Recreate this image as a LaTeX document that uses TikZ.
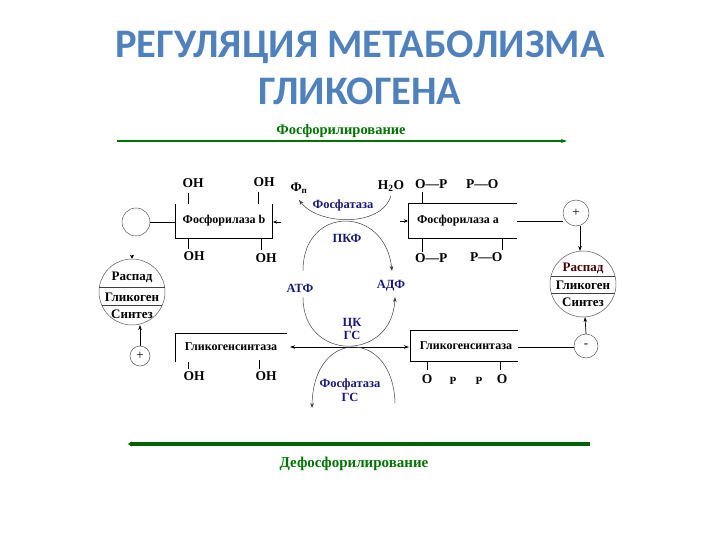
\documentclass[tikz,border=0pt]{standalone}
\usepackage{fontspec}
\setmainfont{Liberation Serif}
\newfontfamily\titlefont{Carlito}
\usetikzlibrary{arrows.meta}
\definecolor{titleblue}{RGB}{79,129,189}
\definecolor{dgreen}{RGB}{0,115,0}
\definecolor{navy}{RGB}{25,25,120}
\newcommand\fsz[1]{\fontsize{#1}{#1}\selectfont\bfseries}
\begin{document}
\begin{tikzpicture}[x=1pt,y=-1pt,
  lbl/.style={font=\fsz{12}, inner sep=0pt},
  clbl/.style={font=\fsz{13}, inner sep=0pt},
  big/.style={font=\fsz{13.5}, inner sep=0pt},
  enz/.style={font=\fsz{12.5}, inner sep=0pt, text=navy},
  grn/.style={inner sep=0pt, text=dgreen},
  ln/.style={line width=0.7pt},
  thin ln/.style={line width=0.5pt, draw=black!75},
  arr/.style={-{Stealth[length=5pt,width=3.5pt]}},
  circ/.style={circle, draw=black!65, line width=0.5pt, inner sep=0pt, font=\fontsize{13}{13}\selectfont}]
\useasboundingbox (0,0) rectangle (720,540);
% title
\node[anchor=base, text=titleblue, font=\titlefont\fontsize{40.5}{44}\selectfont\bfseries, inner sep=0] (t1) at (360,58) {РЕГУЛЯЦИЯ МЕТАБОЛИЗМА};
\node[anchor=base, text=titleblue, font=\titlefont\fontsize{40.5}{44}\selectfont\bfseries, inner sep=0] (t2) at (360,105) {ГЛИКОГЕНА};
% green lines
\node[grn, font=\fsz{14.5}] (phos) at (341,131) {Фосфорилирование};
\coordinate (g1a) at (117,141); \coordinate (g1b) at (567,141);
\draw[dgreen, line width=1.6pt, -{Stealth[length=6pt,width=4pt]}] (g1a) -- (g1b);
\coordinate (g2a) at (590,444); \coordinate (g2b) at (128,444);
\draw[dgreen!85!black, line width=3.2pt, -{Stealth[length=4pt,width=5pt]}] (g2a) -- (g2b);
\node[grn, font=\fsz{15}] (dephos) at (354,464) {Дефосфорилирование};

% ---- Phosphorylase b
\node[lbl] (phb) at (224,221) {Фосфорилаза b};
\draw[ln] (175,204) -- (175,238) -- (272,238) -- (272,204);
\node[big] (ob1) at (193,183) {OH};
\node[big] (ob2) at (264,182) {OH};
\node[big] (ob3) at (194,256) {OH};
\node[big] (ob4) at (266,258) {OH};
\draw[ln] (188,204) -- (188,193);
\draw[ln] (258,204) -- (258,192);
\draw[ln] (188,238) -- (188,249);
\draw[ln] (261,238) -- (261,250);
\node[circ, minimum size=28pt] (c0) at (136,222) {};
\coordinate (pbL) at (175,222);
\draw[ln] (c0) -- (pbL);
\coordinate (pbR) at (273,222); \coordinate (pbR2) at (281,222);
\draw[ln, -{Stealth[length=4pt,width=3.5pt]}] (pbR2) -- (pbR);

% ---- Phosphorylase a
\node[lbl] (pha) at (458,221) {Фосфорилаза а};
\draw[ln] (517,203) -- (408,203) -- (408,238) -- (517,238);
\node[big, anchor=west] (oa1) at (415,184) {O—P};
\node[big, anchor=west] (oa2) at (466,184) {P—O};
\node[big, anchor=west] (oa3) at (415,258) {O—P};
\node[big, anchor=west] (oa4) at (470,257) {P—O};
\draw[ln] (422,203) -- (422,192);
\draw[ln] (422,238) -- (422,252);
\draw[ln] (502,238) -- (502,250);
\coordinate (paL) at (408,221); \coordinate (paL2) at (400,221);
\draw[ln, -{Stealth[length=4pt,width=3.5pt]}] (paL2) -- (paL);
\coordinate (paR) at (517,221);
\node[circ, minimum size=26pt] (plusR) at (576,213) {+};
\draw[ln] (paR) -- (plusR.west |- paR);

% ---- Glycogen synthase (left)
\node[lbl] (gsl) at (231,347) {Гликогенсинтаза};
\draw[ln] (287,333) -- (175,333) -- (175,362);
\node[big] (og1) at (194,376) {OH};
\node[big] (og2) at (266,376) {OH};
\draw[ln] (188,362) -- (188,369);
\draw[ln] (259,360) -- (259,369);

% ---- Glycogen synthase (right)
\node[lbl] (gsr) at (466,346) {Гликогенсинтаза};
\draw[ln] (518,330) -- (410,330) -- (410,361) -- (518,361);
\node[big] (or1) at (427,379) {O};
\node[big, font=\fsz{11}] (or2) at (453,381) {P};
\node[big, font=\fsz{11}] (or3) at (479,381) {P};
\node[big] (or4) at (502,379) {O};
\draw[ln] (427,361) -- (427,370);
\draw[ln] (500,361) -- (500,370);
\coordinate (gsrR) at (518,347);
\node[circ, minimum size=24pt] (minusR) at (586,346) {-};
\draw[ln] (gsrR) -- (minusR.west |- gsrR);

% double arrow between synthases
\coordinate (hub) at (348,347);
\coordinate (gslE) at (290,347);
\coordinate (gsrE) at (409,347);
\draw[ln, -{Stealth[length=5pt,width=3.5pt]}] (hub) -- (gslE);
\draw[ln, -{Stealth[length=5pt,width=3.5pt]}] (hub) -- (gsrE);

% ---- Glycogen circles
\node[circ, minimum size=66pt] (cl) at (132,292) {};
\draw[thin ln] (99.4,287) -- (164.6,287);
\draw[thin ln] (101.7,305) -- (162.3,305);
\node[clbl] (cl1) at (132,277) {Распад};
\node[clbl] (cl2) at (132,297) {Гликоген};
\node[clbl] (cl3) at (132,314) {Синтез};
\coordinate (clT) at (132,255);
\draw[ln, -{Stealth[length=4pt,width=4pt]}] (clT) -- (cl.north);
\node[circ, minimum size=20pt] (plusL) at (140,356) {+};
\draw[ln, arr] (plusL.north) -- (140,325);

\node[circ, minimum size=66pt] (cr) at (583,284) {};
\draw[thin ln] (551,276) -- (615,276);
\draw[thin ln] (551.3,293) -- (614.7,293);
\node[clbl, text=black!60!red!70!black] (cr1) at (583,268) {Распад};
\node[clbl] (cr2) at (583,285) {Гликоген};
\node[clbl] (cr3) at (583,302) {Синтез};
\draw[ln, arr] (plusR.south) ++(4,0) -- (580,251);
\draw[ln, arr] (minusR.north) -- (585,317);

% ---- central cycle
\node[big, font=\fsz{13}] (fp) at (299,188) {Ф\textsubscript{п}};
\node[big] (h2o) at (391,186) {H\textsubscript{2}O};
\node[enz] (fosf1) at (343,205) {Фосфатаза};
\node[enz] (pkf) at (347,238) {ПКФ};
\node[enz] (atf) at (300,288) {АТФ};
\node[enz] (adf) at (391,286) {АДФ};
\node[enz, align=center] (ckgs) at (352,329) {ЦК\\[1pt]ГС};
\node[enz, align=center] (fosf2) at (350,390) {Фосфатаза\\[1pt]ГС};

\draw[thin ln, arr] (h2o.south) ++(0,4) .. controls (381,228) and (318,225) .. (299,200);
\draw[thin ln, arr] (atf.north) ++(3,-13) .. controls (303,205) and (385,205) .. (392,271);
\draw[thin ln, arr] (atf.south) ++(3,5) .. controls (303,362) and (392,362) .. (395,297);
\draw[thin ln, arr] (395,403) .. controls (393,328) and (313,328) .. (312,408);
\end{tikzpicture}
\end{document}
